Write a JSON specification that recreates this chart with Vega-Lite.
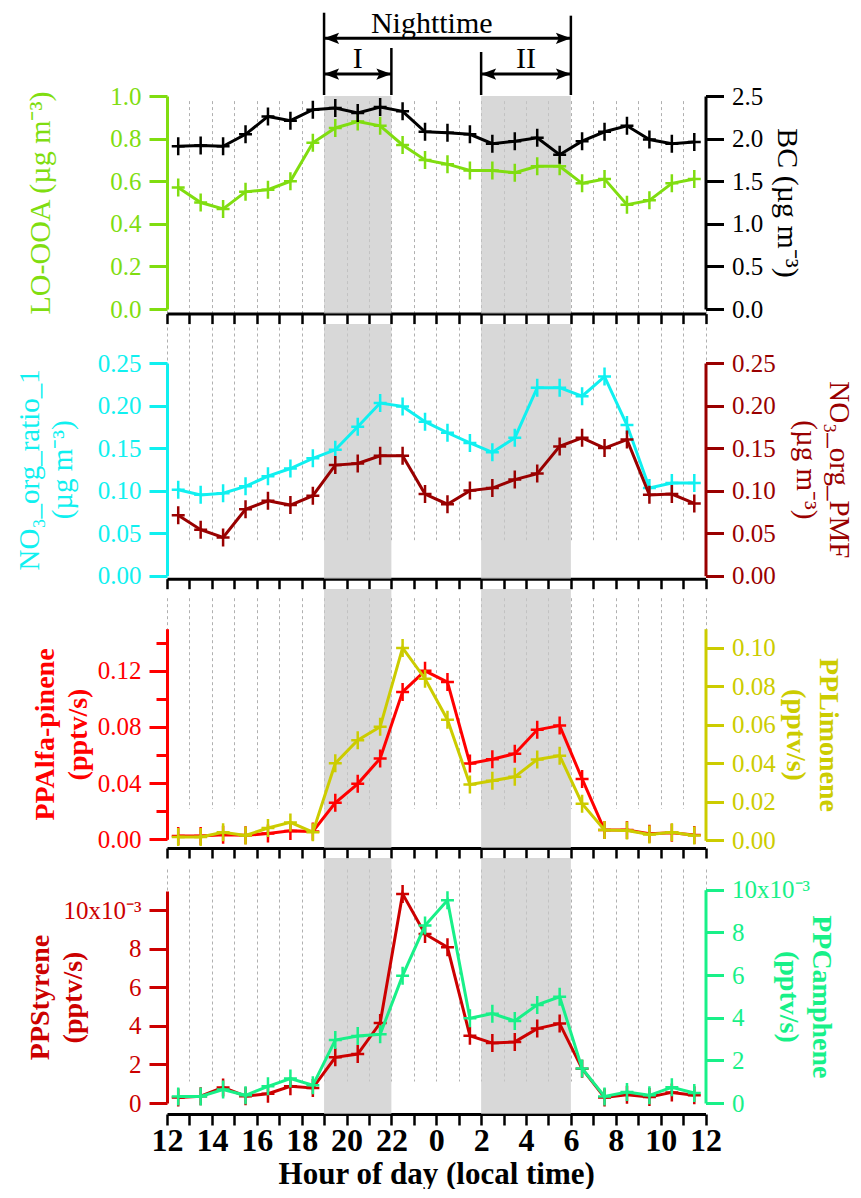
{
  "$schema": "https://vega.github.io/schema/vega-lite/v6.json",
  "background": "white",
  "padding": {"left": 15, "top": 6, "right": 5, "bottom": 0},
  "spacing": 10,
  "bounds": "flush",
  "config": {
    "font": "Liberation Serif",
    "view": {"stroke": null},
    "axis": {"labelFont": "Liberation Serif", "titleFont": "Liberation Serif", "labelOverlap": false, "labelFlush": false, "titleLineHeight": 33}
  },
  "datasets": {
    "d": [
      {"hour": 12.5, "looa": 0.57, "bc": 1.91, "no3r": 0.101, "no3p": 0.071, "alfa": 0.0024, "limo": 0.0017, "sty": 0.00029, "cam": 0.00031},
      {"hour": 13.5, "looa": 0.50, "bc": 1.92, "no3r": 0.095, "no3p": 0.054, "alfa": 0.0024, "limo": 0.0017, "sty": 0.00035, "cam": 0.00031},
      {"hour": 14.5, "looa": 0.47, "bc": 1.91, "no3r": 0.097, "no3p": 0.045, "alfa": 0.0033, "limo": 0.0042, "sty": 0.00081, "cam": 0.00063},
      {"hour": 15.5, "looa": 0.55, "bc": 2.05, "no3r": 0.105, "no3p": 0.078, "alfa": 0.0028, "limo": 0.0025, "sty": 0.00035, "cam": 0.00036},
      {"hour": 16.5, "looa": 0.56, "bc": 2.26, "no3r": 0.117, "no3p": 0.088, "alfa": 0.0042, "limo": 0.0064, "sty": 0.00048, "cam": 0.00078},
      {"hour": 17.5, "looa": 0.60, "bc": 2.21, "no3r": 0.126, "no3p": 0.083, "alfa": 0.0060, "limo": 0.0093, "sty": 0.00087, "cam": 0.00115},
      {"hour": 18.5, "looa": 0.78, "bc": 2.34, "no3r": 0.138, "no3p": 0.094, "alfa": 0.0056, "limo": 0.0042, "sty": 0.00078, "cam": 0.00083},
      {"hour": 19.5, "looa": 0.85, "bc": 2.36, "no3r": 0.148, "no3p": 0.130, "alfa": 0.0260, "limo": 0.0400, "sty": 0.00237, "cam": 0.00295},
      {"hour": 20.5, "looa": 0.88, "bc": 2.30, "no3r": 0.175, "no3p": 0.132, "alfa": 0.0395, "limo": 0.0520, "sty": 0.00254, "cam": 0.00314},
      {"hour": 21.5, "looa": 0.86, "bc": 2.37, "no3r": 0.203, "no3p": 0.141, "alfa": 0.0576, "limo": 0.0590, "sty": 0.00415, "cam": 0.00322},
      {"hour": 22.5, "looa": 0.77, "bc": 2.32, "no3r": 0.199, "no3p": 0.141, "alfa": 0.1050, "limo": 0.1000, "sty": 0.01085, "cam": 0.00597},
      {"hour": 23.5, "looa": 0.70, "bc": 2.08, "no3r": 0.181, "no3p": 0.096, "alfa": 0.1200, "limo": 0.0840, "sty": 0.00877, "cam": 0.00832},
      {"hour": 24.5, "looa": 0.68, "bc": 2.07, "no3r": 0.168, "no3p": 0.084, "alfa": 0.1120, "limo": 0.0627, "sty": 0.00808, "cam": 0.00950},
      {"hour": 25.5, "looa": 0.65, "bc": 2.05, "no3r": 0.156, "no3p": 0.100, "alfa": 0.0540, "limo": 0.0290, "sty": 0.00349, "cam": 0.00397},
      {"hour": 26.5, "looa": 0.65, "bc": 1.94, "no3r": 0.145, "no3p": 0.103, "alfa": 0.0570, "limo": 0.0310, "sty": 0.00311, "cam": 0.00419},
      {"hour": 27.5, "looa": 0.64, "bc": 1.97, "no3r": 0.162, "no3p": 0.113, "alfa": 0.0610, "limo": 0.0330, "sty": 0.00317, "cam": 0.00385},
      {"hour": 28.5, "looa": 0.67, "bc": 2.01, "no3r": 0.221, "no3p": 0.120, "alfa": 0.0780, "limo": 0.0420, "sty": 0.00386, "cam": 0.00460},
      {"hour": 29.5, "looa": 0.67, "bc": 1.81, "no3r": 0.221, "no3p": 0.152, "alfa": 0.0810, "limo": 0.0440, "sty": 0.00412, "cam": 0.00498},
      {"hour": 30.5, "looa": 0.59, "bc": 1.97, "no3r": 0.211, "no3p": 0.162, "alfa": 0.0430, "limo": 0.0190, "sty": 0.00178, "cam": 0.00162},
      {"hour": 31.5, "looa": 0.61, "bc": 2.08, "no3r": 0.234, "no3p": 0.150, "alfa": 0.0066, "limo": 0.0054, "sty": 0.00029, "cam": 0.00031},
      {"hour": 32.5, "looa": 0.49, "bc": 2.15, "no3r": 0.177, "no3p": 0.160, "alfa": 0.0066, "limo": 0.0051, "sty": 0.00043, "cam": 0.00052},
      {"hour": 33.5, "looa": 0.51, "bc": 1.99, "no3r": 0.103, "no3p": 0.095, "alfa": 0.0040, "limo": 0.0030, "sty": 0.00031, "cam": 0.00036},
      {"hour": 34.5, "looa": 0.59, "bc": 1.94, "no3r": 0.109, "no3p": 0.096, "alfa": 0.0047, "limo": 0.0042, "sty": 0.00055, "cam": 0.00074},
      {"hour": 35.5, "looa": 0.61, "bc": 1.96, "no3r": 0.109, "no3p": 0.085, "alfa": 0.0030, "limo": 0.0025, "sty": 0.00040, "cam": 0.00047}
    ],
    "night": [{"hour": 19, "hour2": 22}, {"hour": 26, "hour2": 30}],
    "brackets": [{"x": 19, "bottom": -0.1125, "top": 0.916}, {"x": 30, "bottom": -0.1125, "top": 0.879}, {"x": 22, "bottom": -0.1125, "top": 0.475}, {"x": 26, "bottom": -0.1125, "top": 0.425}],
    "arrows": [
      {"from": 19, "to": 30, "y": 0.596, "label": "Nighttime", "mid": 23.8, "ty": 0.66},
      {"from": 19, "to": 22, "y": 0.15, "label": "I", "mid": 20.5, "ty": 0.225},
      {"from": 26, "to": 30, "y": 0.15, "label": "II", "mid": 28, "ty": 0.225}
    ]
  },
  "vconcat": [
    {
      "width": 538.5, "height": 80,
      "layer": [
        {"data": {"name": "brackets"}, "mark": {"type": "rule", "color": "#000000", "strokeWidth": 2.5},
         "encoding": {
           "x": {"field": "x", "type": "quantitative", "scale": {"domain": [12, 36], "nice": false, "zero": false}, "axis": null},
           "y": {"field": "bottom", "type": "quantitative", "scale": {"domain": [0, 1], "nice": false, "zero": false}, "axis": null},
           "y2": {"field": "top"}}},
        {"data": {"name": "arrows"}, "mark": {"type": "rule", "color": "#000000", "strokeWidth": 3},
         "encoding": {
           "x": {"field": "from", "type": "quantitative", "scale": {"domain": [12, 36], "nice": false, "zero": false}, "axis": null},
           "x2": {"field": "to"},
           "y": {"field": "y", "type": "quantitative", "scale": {"domain": [0, 1], "nice": false, "zero": false}, "axis": null}}},
        {"data": {"name": "arrows"}, "mark": {"type": "point", "shape": "M0,0L2,-0.75L1.6,0L2,0.75Z", "size": 225, "filled": true, "color": "#000000", "opacity": 1},
         "encoding": {
           "x": {"field": "from", "type": "quantitative", "scale": {"domain": [12, 36], "nice": false, "zero": false}, "axis": null},
           "y": {"field": "y", "type": "quantitative", "scale": {"domain": [0, 1], "nice": false, "zero": false}, "axis": null}}},
        {"data": {"name": "arrows"}, "mark": {"type": "point", "shape": "M0,0L-2,-0.75L-1.6,0L-2,0.75Z", "size": 225, "filled": true, "color": "#000000", "opacity": 1},
         "encoding": {
           "x": {"field": "to", "type": "quantitative", "scale": {"domain": [12, 36], "nice": false, "zero": false}, "axis": null},
           "y": {"field": "y", "type": "quantitative", "scale": {"domain": [0, 1], "nice": false, "zero": false}, "axis": null}}},
        {"data": {"name": "arrows"}, "mark": {"type": "text", "font": "Liberation Serif", "fontSize": 30, "baseline": "alphabetic", "align": "center", "color": "#000000"},
         "encoding": {
           "x": {"field": "mid", "type": "quantitative", "scale": {"domain": [12, 36], "nice": false, "zero": false}, "axis": null},
           "y": {"field": "ty", "type": "quantitative", "scale": {"domain": [0, 1], "nice": false, "zero": false}, "axis": null},
           "text": {"field": "label"}}}
      ]
    },
    {
      "width": 538.5, "height": 217.6,
      "data": {"name": "d"},
      "encoding": {"x": {"field": "hour", "type": "quantitative", "scale": {"domain": [12, 36], "nice": false, "zero": false},
        "axis": {"values": [12,13,14,15,16,17,18,19,20,21,22,23,24,25,26,27,28,29,30,31,32,33,34,35,36], "domain": true, "domainColor": "#000000", "domainWidth": 3, "ticks": true, "tickColor": "#000000", "tickSize": 10, "tickWidth": 2.5, "labels": false, "title": null, "grid": true, "gridColor": "#b0b0b0", "gridDash": [3, 3], "gridWidth": 1}}},
      "layer": [
        {"data": {"name": "night"}, "mark": {"type": "rect", "color": "#c9c9c9", "opacity": 0.72}, "encoding": {"x2": {"field": "hour2"}}},
        {
          "encoding": {"y": {"field": "looa", "type": "quantitative", "scale": {"domain": [0, 1.0], "range": [213, 0], "nice": false, "zero": false},
            "axis": {"orient": "left", "values": [0, 0.2, 0.4, 0.6, 0.8, 1.0], "format": ".1f", "domain": true, "domainColor": "#80DD10", "domainWidth": 3, "grid": false, "tickColor": "#80DD10", "tickSize": 18, "tickWidth": 3, "labelColor": "#80DD10", "labelFontSize": 25, "labelPadding": 8, "title": "LO-OOA (µg m⁻³)", "titleColor": "#80DD10", "titleFontSize": 30, "titleFontWeight": "normal", "titlePadding": 54}}},
          "layer": [
            {"mark": {"type": "line", "color": "#80DD10", "strokeWidth": 3}},
            {"mark": {"type": "point", "shape": "M-0.72,0L0.72,0M0,-1L0,1", "size": 324, "filled": false, "color": "#80DD10", "strokeWidth": 2.5, "opacity": 1}}
          ]
        },
        {
          "encoding": {"y": {"field": "bc", "type": "quantitative", "scale": {"domain": [0, 2.5], "range": [213, 0], "nice": false, "zero": false},
            "axis": {"orient": "right", "values": [0, 0.5, 1.0, 1.5, 2.0, 2.5], "format": ".1f", "domain": true, "domainColor": "#000000", "domainWidth": 3, "grid": false, "tickColor": "#000000", "tickSize": 18, "tickWidth": 3, "labelColor": "#000000", "labelFontSize": 25, "labelPadding": 8, "title": "BC (µg m⁻³)", "titleColor": "#000000", "titleFontSize": 30, "titleFontWeight": "normal", "titlePadding": 9}}},
          "layer": [
            {"mark": {"type": "line", "color": "#000000", "strokeWidth": 3}},
            {"mark": {"type": "point", "shape": "M-0.72,0L0.72,0M0,-1L0,1", "size": 324, "filled": false, "color": "#000000", "strokeWidth": 2.5, "opacity": 1}}
          ]
        }
      ],
      "resolve": {"scale": {"y": "independent"}}
    },
    {
      "width": 538.5, "height": 254.7,
      "data": {"name": "d"},
      "encoding": {"x": {"field": "hour", "type": "quantitative", "scale": {"domain": [12, 36], "nice": false, "zero": false},
        "axis": {"values": [12,13,14,15,16,17,18,19,20,21,22,23,24,25,26,27,28,29,30,31,32,33,34,35,36], "domain": true, "domainColor": "#000000", "domainWidth": 3, "ticks": true, "tickColor": "#000000", "tickSize": 10, "tickWidth": 2.5, "labels": false, "title": null, "grid": true, "gridColor": "#b0b0b0", "gridDash": [3, 3], "gridWidth": 1}}},
      "layer": [
        {"data": {"name": "night"}, "mark": {"type": "rect", "color": "#c9c9c9", "opacity": 0.72}, "encoding": {"x2": {"field": "hour2"}}},
        {
          "encoding": {"y": {"field": "no3r", "type": "quantitative", "scale": {"domain": [0, 0.25], "range": [251.7, 39], "nice": false, "zero": false},
            "axis": {"orient": "left", "values": [0, 0.05, 0.1, 0.15, 0.2, 0.25], "format": ".2f", "domain": true, "domainColor": "#10F0F0", "domainWidth": 3, "grid": false, "tickColor": "#10F0F0", "tickSize": 18, "tickWidth": 3, "labelColor": "#10F0F0", "labelFontSize": 25, "labelPadding": 8, "title": ["NO₃_org_ratio_1", "(µg m⁻³)"], "titleColor": "#10F0F0", "titleFontSize": 29, "titleFontWeight": "normal", "titlePadding": 20}}},
          "layer": [
            {"mark": {"type": "line", "color": "#10F0F0", "strokeWidth": 3}},
            {"mark": {"type": "point", "shape": "M-0.72,0L0.72,0M0,-1L0,1", "size": 324, "filled": false, "color": "#10F0F0", "strokeWidth": 2.5, "opacity": 1}}
          ]
        },
        {
          "encoding": {"y": {"field": "no3p", "type": "quantitative", "scale": {"domain": [0, 0.25], "range": [251.7, 39], "nice": false, "zero": false},
            "axis": {"orient": "right", "values": [0, 0.05, 0.1, 0.15, 0.2, 0.25], "format": ".2f", "domain": true, "domainColor": "#990000", "domainWidth": 3, "grid": false, "tickColor": "#990000", "tickSize": 18, "tickWidth": 3, "labelColor": "#990000", "labelFontSize": 25, "labelPadding": 8, "title": ["NO₃_org_PMF", "(µg m⁻³)"], "titleColor": "#990000", "titleFontSize": 29, "titleFontWeight": "normal", "titlePadding": 15}}},
          "layer": [
            {"mark": {"type": "line", "color": "#990000", "strokeWidth": 3}},
            {"mark": {"type": "point", "shape": "M-0.72,0L0.72,0M0,-1L0,1", "size": 324, "filled": false, "color": "#990000", "strokeWidth": 2.5, "opacity": 1}}
          ]
        }
      ],
      "resolve": {"scale": {"y": "independent"}}
    },
    {
      "width": 538.5, "height": 259,
      "data": {"name": "d"},
      "encoding": {"x": {"field": "hour", "type": "quantitative", "scale": {"domain": [12, 36], "nice": false, "zero": false},
        "axis": {"values": [12,13,14,15,16,17,18,19,20,21,22,23,24,25,26,27,28,29,30,31,32,33,34,35,36], "domain": true, "domainColor": "#000000", "domainWidth": 3, "ticks": true, "tickColor": "#000000", "tickSize": 10, "tickWidth": 2.5, "labels": false, "title": null, "grid": true, "gridColor": "#b0b0b0", "gridDash": [3, 3], "gridWidth": 1}}},
      "layer": [
        {"data": {"name": "night"}, "mark": {"type": "rect", "color": "#c9c9c9", "opacity": 0.72}, "encoding": {"x2": {"field": "hour2"}}},
        {
          "encoding": {"y": {"field": "alfa", "type": "quantitative", "scale": {"domain": [0, 0.15], "range": [250.3, 39.7], "nice": false, "zero": false},
            "axis": {"orient": "left", "values": [0, 0.02, 0.04, 0.06, 0.08, 0.1, 0.12, 0.14], "labelExpr": "round(datum.value*50) % 2 == 0 ? format(datum.value, '.2f') : ''", "domain": true, "domainColor": "#FF0000", "domainWidth": 3, "grid": false, "tickColor": "#FF0000", "tickSize": {"condition": {"test": "round(datum.value*50) % 2 == 0", "value": 18}, "value": 11}, "tickWidth": 3, "labelColor": "#FF0000", "labelFontSize": 25, "labelPadding": 8, "title": ["PPAlfa-pinene", "(pptv/s)"], "titleColor": "#FF0000", "titleFontSize": 28, "titleFontWeight": "bold", "titlePadding": 5}}},
          "layer": [
            {"mark": {"type": "line", "color": "#FF0000", "strokeWidth": 3}},
            {"mark": {"type": "point", "shape": "M-0.72,0L0.72,0M0,-1L0,1", "size": 324, "filled": false, "color": "#FF0000", "strokeWidth": 2.5, "opacity": 1}}
          ]
        },
        {
          "encoding": {"y": {"field": "limo", "type": "quantitative", "scale": {"domain": [0, 0.11], "range": [251.3, 39.7], "nice": false, "zero": false},
            "axis": {"orient": "right", "values": [0, 0.02, 0.04, 0.06, 0.08, 0.1], "format": ".2f", "domain": true, "domainColor": "#CCCC00", "domainWidth": 3, "grid": false, "tickColor": "#CCCC00", "tickSize": 18, "tickWidth": 3, "labelColor": "#CCCC00", "labelFontSize": 25, "labelPadding": 8, "title": ["PPLimonene", "(pptv/s)"], "titleColor": "#CCCC00", "titleFontSize": 28, "titleFontWeight": "bold", "titlePadding": 5}}},
          "layer": [
            {"mark": {"type": "line", "color": "#CCCC00", "strokeWidth": 3}},
            {"mark": {"type": "point", "shape": "M-0.72,0L0.72,0M0,-1L0,1", "size": 324, "filled": false, "color": "#CCCC00", "strokeWidth": 2.5, "opacity": 1}}
          ]
        }
      ],
      "resolve": {"scale": {"y": "independent"}}
    },
    {
      "width": 538.5, "height": 256,
      "data": {"name": "d"},
      "encoding": {"x": {"field": "hour", "type": "quantitative", "scale": {"domain": [12, 36], "nice": false, "zero": false},
        "axis": {"values": [12,13,14,15,16,17,18,19,20,21,22,23,24,25,26,27,28,29,30,31,32,33,34,35,36], "domain": true, "domainColor": "#000000", "domainWidth": 3, "ticks": true, "tickColor": "#000000", "tickSize": 11, "tickWidth": 2.5, "labels": true, "labelExpr": "datum.value % 2 == 0 ? (datum.value == 36 ? '12' : toString(datum.value % 24)) : ''", "labelFontSize": 32, "labelFontWeight": "bold", "labelColor": "#000000", "labelPadding": 0, "title": "Hour of day (local time)", "titleFontSize": 31, "titleFontWeight": "bold", "titleColor": "#000000", "titlePadding": 3, "grid": true, "gridColor": "#b0b0b0", "gridDash": [3, 3], "gridWidth": 1}}},
      "layer": [
        {"data": {"name": "night"}, "mark": {"type": "rect", "color": "#c9c9c9", "opacity": 0.72}, "encoding": {"x2": {"field": "hour2"}}},
        {
          "encoding": {"y": {"field": "sty", "type": "quantitative", "scale": {"domain": [0, 0.011], "range": [245, 33], "nice": false, "zero": false},
            "axis": {"orient": "left", "values": [0, 0.002, 0.004, 0.006, 0.008, 0.01], "labelExpr": "datum.value > 0.0095 ? '10x10⁻³' : format(datum.value*1000, 'd')", "domain": true, "domainColor": "#CC0000", "domainWidth": 3, "grid": false, "tickColor": "#CC0000", "tickSize": 18, "tickWidth": 3, "labelColor": "#CC0000", "labelFontSize": 25, "labelPadding": 8, "title": ["PPStyrene", "(pptv/s)"], "titleColor": "#CC0000", "titleFontSize": 28, "titleFontWeight": "bold", "titlePadding": -24}}},
          "layer": [
            {"mark": {"type": "line", "color": "#CC0000", "strokeWidth": 3}},
            {"mark": {"type": "point", "shape": "M-0.72,0L0.72,0M0,-1L0,1", "size": 324, "filled": false, "color": "#CC0000", "strokeWidth": 2.5, "opacity": 1}}
          ]
        },
        {
          "encoding": {"y": {"field": "cam", "type": "quantitative", "scale": {"domain": [0, 0.01], "range": [245, 31.7], "nice": false, "zero": false},
            "axis": {"orient": "right", "values": [0, 0.002, 0.004, 0.006, 0.008, 0.01], "labelExpr": "datum.value > 0.0095 ? '10x10⁻³' : format(datum.value*1000, 'd')", "domain": true, "domainColor": "#18F088", "domainWidth": 3, "grid": false, "tickColor": "#18F088", "tickSize": 18, "tickWidth": 3, "labelColor": "#18F088", "labelFontSize": 25, "labelPadding": 8, "title": ["PPCamphene", "(pptv/s)"], "titleColor": "#18F088", "titleFontSize": 28, "titleFontWeight": "bold", "titlePadding": -36}}},
          "layer": [
            {"mark": {"type": "line", "color": "#18F088", "strokeWidth": 3}},
            {"mark": {"type": "point", "shape": "M-0.72,0L0.72,0M0,-1L0,1", "size": 324, "filled": false, "color": "#18F088", "strokeWidth": 2.5, "opacity": 1}}
          ]
        }
      ],
      "resolve": {"scale": {"y": "independent"}}
    }
  ]
}
